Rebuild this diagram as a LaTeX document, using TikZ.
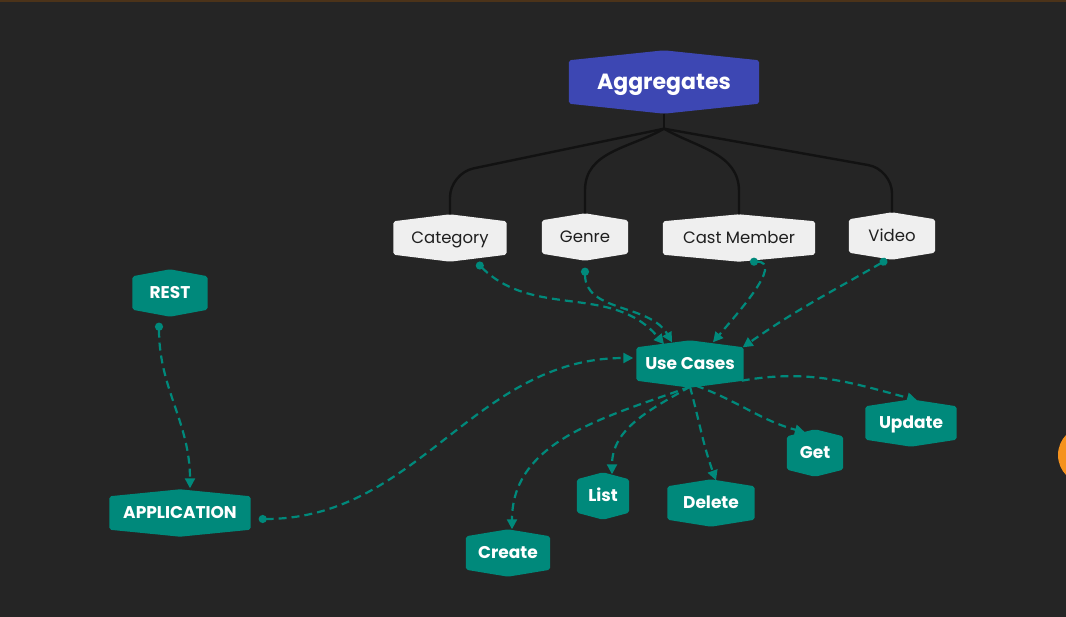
\documentclass[tikz,border=0pt]{standalone}
\usepackage{fontspec}
\setmainfont{Poppins}
\usepackage{tikz}
\usetikzlibrary{arrows.meta,backgrounds}

\definecolor{bgcol}{HTML}{252525}
\definecolor{ucteal}{HTML}{00897B}
\definecolor{aggblue}{HTML}{3D47B3}
\definecolor{entgray}{HTML}{EFEFEF}
\definecolor{treeline}{HTML}{121212}
\definecolor{dotorange}{HTML}{F5921E}

\begin{document}
\begin{tikzpicture}[x=1pt,y=-1pt,
		box/.style={inner sep=0pt,minimum height=33pt,text depth=0pt},
		ent/.style={box,text=black!88,text height=11.5pt,font=\fontsize{16.5}{19}\selectfont},
		act/.style={box,text=white,text height=11.9pt,font=\bfseries\fontsize{17}{20}\selectfont},
		tree/.style={draw=treeline,line width=2.4pt},
		flow/.style={draw=ucteal,line width=2.2pt,dash pattern=on 8pt off 5pt,arrows={Circle[length=8pt]-Triangle[length=10pt,width=10pt]}},
		flowout/.style={flow,arrows={-Triangle[length=10pt,width=10pt]}}]
		\useasboundingbox (0,0) rectangle (1066,617);
		
		\node[box,text=white,text height=14.5pt,font=\bfseries\fontsize{22}{26}\selectfont,minimum width=190pt,minimum height=43pt] (agg) at (664,82) {Aggregates};
		
		\node[ent,minimum width=113pt] (cat) at (450,238) {Category};
		\node[ent,minimum width=86pt] (gen) at (585,237) {Genre};
		\node[ent,minimum width=152pt] (cast) at (739,238) {Cast Member};
		\node[ent,minimum width=86pt] (vid) at (892,236) {Video};
		
		\node[act,minimum width=75pt] (rest) at (170,293) {REST};
		\node[act,minimum width=141pt] (app) at (180,513) {APPLICATION};
		\node[act,minimum width=107pt] (uc) at (690,364) {Use Cases};
		\node[act,minimum width=91pt] (upd) at (911,423) {Update};
		\node[act,minimum width=56pt] (get) at (815,453) {Get};
		\node[act,minimum width=52pt] (list) at (603,496) {List};
		\node[act,minimum width=87pt] (del) at (711,503) {Delete};
		\node[act,minimum width=84pt] (cre) at (508,553) {Create};
		
		\begin{scope}[on background layer]
			\fill[bgcol] (0,0) rectangle (1066,617);
			\fill[black!60!brown] (0,0) rectangle (1066,2);
			\fill[dotorange] (1087,455) circle (29pt);
			\foreach \n/\c/\p in {agg/aggblue/10,cat/entgray/7,gen/entgray/7,cast/entgray/7,vid/entgray/7,
				rest/ucteal/7,app/ucteal/7,uc/ucteal/7,upd/ucteal/7,get/ucteal/7,list/ucteal/7,del/ucteal/7,cre/ucteal/7}{
				\fill[\c,rounded corners=2pt] (\n.north west) -- ([yshift=\p pt]\n.north) -- (\n.north east)
					-- (\n.south east) -- ([yshift=-\p pt]\n.south) -- (\n.south west) -- cycle;
			}
		\end{scope}
		
		% tree below the aggregates
		\coordinate (j) at ([yshift=-25pt]agg.south);
		\draw[tree] ([yshift=-10pt]agg.south) -- (j);
		\draw[tree,rounded corners=24pt] (j) -- ([yshift=48pt]cat.north) -- ([yshift=7pt]cat.north);
		\draw[tree] (j) to[out=210,in=90] ([yshift=30pt]gen.north) -- ([yshift=7pt]gen.north);
		\draw[tree] (j) to[out=-30,in=90] ([yshift=30pt]cast.north) -- ([yshift=7pt]cast.north);
		\draw[tree,rounded corners=24pt] (j) -- ([yshift=50pt]vid.north) -- ([yshift=7pt]vid.north);
		
		% into the use cases
		\draw[flow] ([xshift=27pt,yshift=-8pt]cat.south) to[out=-45,in=130] ([xshift=-26pt,yshift=3pt]uc.north);
		\draw[flow] ([yshift=-14pt]gen.south) to[out=-90,in=120] ([xshift=-18pt,yshift=5pt]uc.north);
		\draw[flow] ([xshift=11pt,yshift=-7pt]cast.south) to[out=0,in=50] ([xshift=23pt,yshift=5pt]uc.north);
		\draw[flow] ([xshift=-5pt,yshift=-7pt]vid.south) to[out=210,in=35] ([xshift=-1pt]uc.north east);
		\draw[flow] ([xshift=8pt,yshift=-6pt]app.east) to[out=0,in=180] ([xshift=-3pt,yshift=6pt]uc.west);
		\draw[flow] ([xshift=-11pt,yshift=-13pt]rest.south) to[out=-90,in=90] ([xshift=10pt,yshift=8pt]app.north);
		%\draw[flow] (rest) -- (app);
		
		% out of the use cases
		\draw[flowout] ([yshift=-6pt]uc.south) to[out=200,in=90] ([xshift=4pt,yshift=7pt]cre.north);
		\draw[flowout] ([yshift=-6pt]uc.south) to[out=210,in=90] ([xshift=9pt,yshift=5pt]list.north);
		\draw[flowout] ([yshift=-6pt]uc.south) to[out=-75,in=110] ([xshift=5pt,yshift=6pt]del.north);
		\draw[flowout] ([xshift=6pt,yshift=-5pt]uc.south) to[out=-20,in=165] ([xshift=-10pt,yshift=4pt]get.north);
		\draw[flowout] ([xshift=-2pt]uc.south east) to[out=10,in=165] ([xshift=6pt,yshift=6pt]upd.north);
\end{tikzpicture}
\end{document}
